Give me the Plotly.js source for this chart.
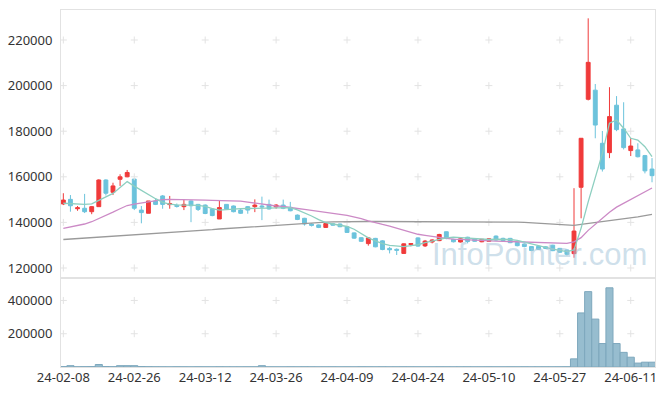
<!DOCTYPE html>
<html>
<head>
<meta charset="utf-8">
<script src="https://cdn.plot.ly/plotly-3.0.1.min.js"></script>
<style>html,body{margin:0;padding:0;background:#fff;}#chart{width:665px;height:396px;}</style>
</head>
<body>
<div id="chart"></div>
<script>
var dates = ["24-02-08","24-02-13","24-02-14","24-02-15","24-02-16","24-02-19","24-02-20","24-02-21","24-02-22","24-02-23",
"24-02-26","24-02-27","24-02-28","24-02-29","24-03-04","24-03-05","24-03-06","24-03-07","24-03-08","24-03-11",
"24-03-12","24-03-13","24-03-14","24-03-15","24-03-18","24-03-19","24-03-20","24-03-21","24-03-22","24-03-25",
"24-03-26","24-03-27","24-03-28","24-03-29","24-04-01","24-04-02","24-04-03","24-04-04","24-04-05","24-04-08",
"24-04-09","24-04-11","24-04-12","24-04-15","24-04-16","24-04-17","24-04-18","24-04-19","24-04-22","24-04-23",
"24-04-24","24-04-25","24-04-26","24-04-29","24-04-30","24-05-02","24-05-03","24-05-07","24-05-08","24-05-09",
"24-05-10","24-05-13","24-05-14","24-05-16","24-05-17","24-05-20","24-05-21","24-05-22","24-05-23","24-05-24",
"24-05-27","24-05-28","24-05-29","24-05-30","24-05-31","24-06-03","24-06-04","24-06-05","24-06-07","24-06-10",
"24-06-11","24-06-12","24-06-13","24-06-14"];

var open = [148100,150100,146000,146200,144700,146900,158600,153200,158900,160000,
159000,145400,144000,149400,151600,147800,147500,146900,149400,147900,
147600,145900,141500,147900,147200,145400,146900,146900,147200,147900,
146800,147600,146600,143200,141800,139300,138900,137800,139400,139300,
138100,135400,133300,130700,133000,131900,128600,128200,126400,130300,
133200,129700,131400,132000,135900,132600,131400,133500,132800,131500,
131700,134000,133000,133000,131200,130500,129400,129500,129300,130000,
128600,127900,126300,155400,194000,198000,174700,170600,191400,181000,
171500,171800,169300,163400];
var high = [152800,152000,147200,152500,147200,158900,158900,157400,161100,163000,
159200,147200,149400,150500,152000,151600,148300,150100,149600,148100,
147900,146300,149400,148000,147400,146000,147200,150100,151300,150000,
148000,150000,149000,143500,142000,139700,139100,140000,139800,139500,
138300,135600,133500,133600,133200,132200,129300,128600,130800,130700,
133500,132300,132600,135000,136000,132800,133000,133700,133000,132700,
133000,134300,133300,133200,131500,130800,129600,129800,129600,130200,
128800,128100,155000,176900,229500,200700,180100,199300,195400,192700,
177100,174700,169600,168200];
var low = [147600,144700,145100,144100,143600,146900,151800,152000,156000,159800,
145400,139600,144000,147600,146000,146000,146500,145400,140100,145000,
143600,142700,141500,145600,144400,143700,143800,144500,141000,145600,
146000,145800,144900,141000,138600,138200,137500,137600,138600,137900,
135400,132800,131400,129800,129100,127800,126400,125700,126300,129500,
129300,129200,130800,131800,132600,131200,131200,130800,131500,131300,
131500,131900,131800,130900,129500,129100,127400,127900,128300,127400,
126600,125500,124500,141800,193500,176900,162300,168200,180000,172000,
169100,168500,161500,157600];
var close = [149800,147300,146400,144700,146900,158600,152800,156000,160000,161900,
146200,144300,149400,147900,147900,148300,147000,147900,147300,145700,
143900,143000,146500,145900,144700,144000,145400,147600,146800,145900,
147600,146200,145100,141300,139300,138700,137800,139500,138800,138100,
135600,133100,131700,133200,129300,128100,128000,127800,130600,130700,
129600,131800,132300,134700,133000,131500,132800,131600,131700,132600,
132800,132300,132000,131100,129800,129400,127700,128200,128600,127600,
126900,126000,136200,176900,210200,182700,163400,186400,180700,172800,
173500,168800,162600,160500];
var volume = [2500,8000,1500,2000,2500,15000,3000,2000,8000,8000,
8000,3000,2000,1500,1200,1000,1500,1200,1000,1300,
1200,1000,1400,1100,900,1000,1200,1300,8000,1100,
1000,900,1200,1000,1300,1100,900,1000,1200,1000,
1100,900,1300,1200,1000,1100,900,1000,1200,1100,
1000,900,1000,1200,1100,900,1000,1100,900,1000,
1200,1000,900,1100,1000,1200,900,1000,1100,1000,
1200,1500,49000,325000,453000,288000,141000,476000,141000,88000,
59000,23500,29000,29000];
var ma5 = [148400,148200,148000,147900,148100,149600,151000,152700,155300,157900,
155900,154000,152300,150400,148800,148000,147700,147700,147800,147500,
147000,146000,145400,145700,145900,146000,146100,146200,146300,146400,
146600,146600,146500,145500,144300,142800,141200,139900,139300,138700,
138200,137000,135200,133200,131900,130700,129900,129500,129400,129800,
130200,131100,131900,132500,133200,133500,133300,132900,132600,132500,
132500,132600,132600,132500,132100,131300,130500,129600,128900,128300,
127700,127200,127900,137500,149000,160000,170300,183500,184900,181300,
176900,176100,173200,168800];
var ma20 = [137400,138000,138600,139300,140300,141600,143000,144500,146000,147400,
148000,148500,149000,149600,150000,150100,150100,150000,149900,149800,
149800,149700,149600,149600,149500,149300,148900,148400,147900,147400,
147200,147000,146700,146100,145700,145200,144700,144300,143900,143500,
143100,142500,141700,140700,139800,139100,138400,137500,136500,135600,
134800,134300,133800,133300,133000,132700,132500,132300,132100,132000,
131900,131800,131700,131600,131500,131400,131400,131200,131100,131000,
130900,130800,131500,133300,136500,139300,141800,144500,146700,148400,
150100,151800,153500,155100];
var ma60 = [132500,132700,132800,133000,133100,133300,133500,133700,133900,134100,
134300,134500,134700,134900,135200,135400,135600,135800,136000,136300,
136500,136800,137100,137300,137600,137800,138100,138300,138600,138800,
139000,139200,139400,139500,139700,139900,140000,140100,140200,140300,
140300,140300,140400,140400,140400,140400,140400,140400,140400,140400,
140400,140400,140400,140400,140400,140400,140300,140300,140300,140300,
140300,140200,140200,140100,140100,140000,139800,139600,139400,139200,
139000,138800,138700,139100,139500,139900,140300,140600,141000,141400,
141800,142400,143000,143500];

var priceTicks = [120000,140000,160000,180000,200000,220000];
var volumeTicks = [200000,400000];
var tickDates = [dates[0],dates[10],dates[20],dates[30],dates[40],dates[50],dates[60],dates[70],dates[80]];

var UP = '#f03a3a', DOWN = '#6cc3dc';

var crossX = [], crossY = [], crossX2 = [], crossY2 = [];
tickDates.forEach(function(d){
  priceTicks.forEach(function(v){ crossX.push(d); crossY.push(v); });
  volumeTicks.forEach(function(v){ crossX2.push(d); crossY2.push(v); });
});

var crossMarker = {symbol:'cross-thin', size:5, line:{width:1, color:'#e3e3e3'}, color:'#e3e3e3'};

var traces = [
  {type:'bar', x:dates, y:volume, xaxis:'x2', yaxis:'y2',
   marker:{color:'rgba(140,182,202,0.9)', line:{color:'#7ea8bd', width:1}}},
  {type:'scatter', mode:'markers', x:crossX, y:crossY, xaxis:'x', yaxis:'y', marker:crossMarker, hoverinfo:'skip'},
  {type:'scatter', mode:'markers', x:crossX2, y:crossY2, xaxis:'x2', yaxis:'y2', marker:crossMarker, hoverinfo:'skip'},
  {type:'candlestick', x:dates, open:open, high:high, low:low, close:close, xaxis:'x', yaxis:'y',
   increasing:{line:{color:UP, width:1}, fillcolor:UP},
   decreasing:{line:{color:DOWN, width:1}, fillcolor:DOWN}},
  {type:'scatter', mode:'lines', x:dates, y:ma60, xaxis:'x', yaxis:'y', line:{color:'#9a9a9a', width:1.3}},
  {type:'scatter', mode:'lines', x:dates, y:ma20, xaxis:'x', yaxis:'y', line:{color:'#cc8ac6', width:1.3}},
  {type:'scatter', mode:'lines', x:dates, y:ma5, xaxis:'x', yaxis:'y', line:{color:'#8dcfc0', width:1.3}}
];

var tickFont = {family:'Noto Sans, sans-serif', size:13, color:'#333'};
var lineCol = '#e2e2e2';
var split = 89/357;

var layout = {
  width:665, height:396,
  margin:{l:61, r:10, t:10, b:29, pad:0},
  paper_bgcolor:'#fff', plot_bgcolor:'#fff',
  showlegend:false, bargap:0, boxgap:0.22,
  font:tickFont,
  xaxis:{type:'category', categoryorder:'array', categoryarray:dates, anchor:'y', domain:[0,1],
         range:[-0.33,83.42], showticklabels:false,
         showgrid:false, zeroline:false, showline:true, linecolor:lineCol, linewidth:1, mirror:true,
         ticks:'', rangeslider:{visible:false}},
  xaxis2:{type:'category', categoryorder:'array', categoryarray:dates, anchor:'y2', matches:'x', domain:[0,1],
          range:[-0.33,83.42],
          tickmode:'array', tickvals:tickDates, ticktext:tickDates, tickfont:tickFont, tickangle:0,
          ticklabelstandoff:-2,
          showgrid:false, zeroline:false, showline:true, linecolor:lineCol, linewidth:1, mirror:true,
          ticks:'', rangeslider:{visible:false}},
  yaxis:{domain:[split,1], range:[115614,233160], tickmode:'array', tickvals:priceTicks,
         ticktext:priceTicks.map(String), tickfont:tickFont, showgrid:false, zeroline:false,
         showline:true, linecolor:lineCol, linewidth:1, mirror:true, ticks:'outside', ticklen:5, tickcolor:'rgba(0,0,0,0)'},
  yaxis2:{domain:[0,split], range:[0,535000], tickmode:'array', tickvals:volumeTicks,
          ticktext:volumeTicks.map(String), tickfont:tickFont, showgrid:false, zeroline:false,
          showline:true, linecolor:lineCol, linewidth:1, mirror:true, ticks:'outside', ticklen:5, tickcolor:'rgba(0,0,0,0)'},
  annotations:[{text:'InfoPointer.com', xref:'paper', yref:'paper', x:0.805, y:0.3165,
                xanchor:'center', yanchor:'middle', showarrow:false,
                font:{family:'Liberation Sans, Arial, sans-serif', size:31, color:'rgba(165,198,218,0.55)'}}]
};

Plotly.newPlot('chart', traces, layout, {displayModeBar:false, staticPlot:true});
</script>
</body>
</html>
